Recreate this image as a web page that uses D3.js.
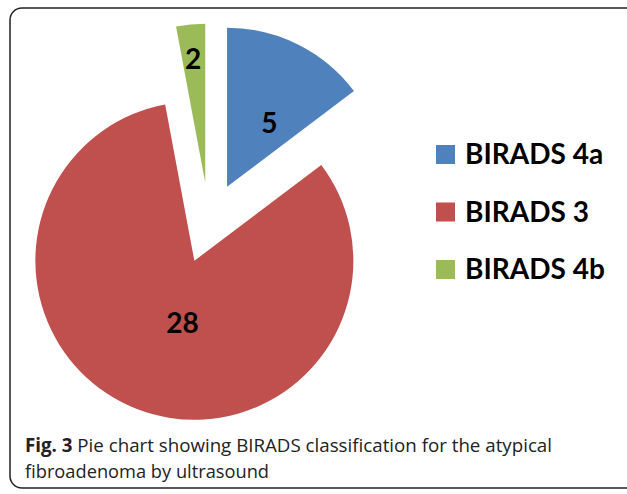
<!DOCTYPE html>
<html>
<head>
<meta charset="utf-8">
<script src="https://cdn.jsdelivr.net/npm/d3@7/dist/d3.min.js"></script>
<style>
  html, body { margin: 0; padding: 0; background: #fff; }
  svg { display: block; }
</style>
</head>
<body>
<div id="chart"></div>
<script>
'use strict';

// categories in drawing order (clockwise from 12 o'clock)
var categories = ['BIRADS 4a', 'BIRADS 3', 'BIRADS 4b'];
// slice sizes as drawn in the figure
var sliceValues = [5, 28, 1];
// data labels printed on the slices
var dataLabels = ['5', '28', '2'];
var colors = ['#4F81BD', '#C0504D', '#9BBB59'];

var width = 627, height = 494;
var cx = 209, cy = 223, radius = 159, explode = 40.5;
// label placement inside each slice (Excel "best fit"-like):
// fraction of radius, and fraction of the way through the slice's angle
var labelFrac = [0.48, 0.4, 0.78];
var labelAngleFrac = [0.635, 0.465, 0.47];

var svg = d3.select('#chart').append('svg')
    .attr('width', width)
    .attr('height', height);

// figure frame
svg.append('rect')
    .attr('x', 10).attr('y', 8)
    .attr('width', 640).attr('height', 480)
    .attr('rx', 12).attr('ry', 12)
    .attr('fill', 'none')
    .attr('stroke', '#222')
    .attr('stroke-width', 1.5);

var pie = d3.pie().sort(null).value(function (d) { return d; });
var arcs = pie(sliceValues);
var arc = d3.arc().innerRadius(0).outerRadius(radius);

function polar(a, dist) {
    return [Math.sin(a) * dist, -Math.cos(a) * dist];
}

function labelPos(d, i) {
    var a = d.startAngle + (d.endAngle - d.startAngle) * labelAngleFrac[i];
    return polar(a, radius * labelFrac[i]);
}

var g = svg.append('g').attr('transform', 'translate(' + cx + ',' + cy + ')');

var slices = g.selectAll('.slice')
    .data(arcs)
    .enter().append('g')
    .attr('class', 'slice')
    .attr('transform', function (d) {
        var o = polar((d.startAngle + d.endAngle) / 2, explode);
        return 'translate(' + o[0] + ',' + o[1] + ')';
    });

slices.append('path')
    .attr('d', arc)
    .attr('fill', function (d, i) { return colors[i]; });

slices.append('text')
    .attr('x', function (d, i) { return labelPos(d, i)[0]; })
    .attr('y', function (d, i) { return labelPos(d, i)[1]; })
    .attr('dy', '0.36em')
    .attr('text-anchor', 'middle')
    .style('font-family', 'Lato, "Open Sans", sans-serif')
    .style('font-weight', 'bold')
    .style('font-size', '28px')
    .attr('fill', '#000')
    .text(function (d, i) { return dataLabels[i]; });

// legend
var legend = svg.append('g').attr('transform', 'translate(436,145)');
var items = legend.selectAll('.item')
    .data(categories)
    .enter().append('g')
    .attr('class', 'item')
    .attr('transform', function (d, i) { return 'translate(0,' + (i * 57.5) + ')'; });

items.append('rect')
    .attr('width', 19).attr('height', 19)
    .attr('fill', function (d, i) { return colors[i]; });

items.append('text')
    .attr('x', 29).attr('y', 19)
    .style('font-family', 'Lato, "Open Sans", sans-serif')
    .style('font-weight', 'bold')
    .style('font-size', '28px')
    .attr('fill', '#000')
    .text(function (d) { return d; });

// caption
var cap = svg.append('g')
    .style('font-family', '"Open Sans", sans-serif')
    .style('font-size', '19px')
    .attr('fill', '#222');

var line1 = cap.append('text')
    .attr('x', 25).attr('y', 452)
    .attr('textLength', 527)
    .attr('lengthAdjust', 'spacingAndGlyphs');
line1.append('tspan').style('font-weight', 'bold').text('Fig. 3');
line1.append('tspan').text(' Pie chart showing BIRADS classification for the atypical');

cap.append('text')
    .attr('x', 25).attr('y', 478)
    .attr('textLength', 244)
    .attr('lengthAdjust', 'spacingAndGlyphs')
    .text('fibroadenoma by ultrasound');
</script>
</body>
</html>
